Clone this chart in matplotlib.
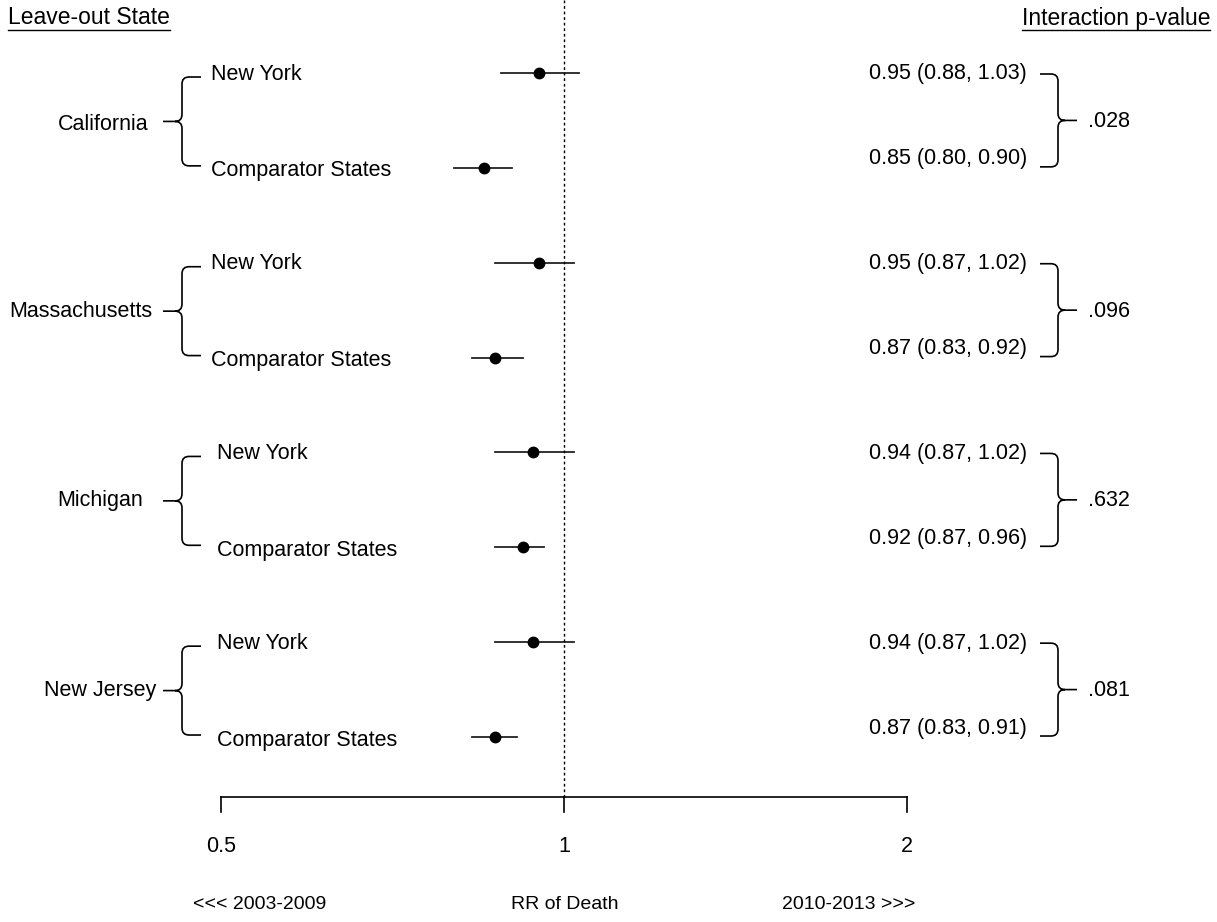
import matplotlib
matplotlib.use("Agg")
import matplotlib.pyplot as plt
from matplotlib.path import Path
from matplotlib.patches import PathPatch

plt.rcParams['font.family'] = ['Liberation Sans', 'DejaVu Sans']

# data
states = ['California', 'Massachusetts', 'Michigan', 'New Jersey']
ny_rr = [0.95, 0.95, 0.94, 0.94]
ny_lo = [0.88, 0.87, 0.87, 0.87]
ny_hi = [1.03, 1.02, 1.02, 1.02]
comp_rr = [0.85, 0.87, 0.92, 0.87]
comp_lo = [0.80, 0.83, 0.87, 0.83]
comp_hi = [0.90, 0.92, 0.96, 0.91]
p_values = ['.028', '.096', '.632', '.081']
tick_vals = [0.5, 1, 2]
tick_labels = ['0.5', '1', '2']

W, H = 1217, 922
fig = plt.figure(figsize=(W / 100, H / 100), dpi=100)

# data axes: log2 x, y in pixel rows from top
ax = fig.add_axes([0, 0, 1, 1])
ax.set_xscale('log', base=2)
ax.set_xlim(2 ** (-1 - 221 / 343), 2 ** (1 + 310 / 343))
ax.set_ylim(H, 0)
ax.axis('off')

# overlay in pixel coords for text and braces
ov = fig.add_axes([0, 0, 1, 1], facecolor='none')
ov.set_xlim(0, W)
ov.set_ylim(H, 0)
ov.axis('off')

fs = 15.5
row0, step = 73, 94.86
axis_y = 797
state_x = [103, 81, 100, 100]


def brace(x_tip, x_vert, x_end, y_top, y_bot, r=7):
    s = 1 if x_end > x_vert else -1
    ym = (y_top + y_bot) / 2
    verts = [(x_end, y_top), (x_vert + s * r, y_top), (x_vert, y_top), (x_vert, y_top + r),
             (x_vert, ym - r), (x_vert, ym), (x_vert - s * r, ym), (x_tip, ym),
             (x_vert - s * r, ym), (x_vert, ym), (x_vert, ym + r),
             (x_vert, y_bot - r), (x_vert, y_bot), (x_vert + s * r, y_bot), (x_end, y_bot)]
    codes = [Path.MOVETO, Path.LINETO, Path.CURVE3, Path.CURVE3,
             Path.LINETO, Path.CURVE3, Path.CURVE3, Path.LINETO,
             Path.MOVETO, Path.CURVE3, Path.CURVE3,
             Path.LINETO, Path.CURVE3, Path.CURVE3, Path.LINETO]
    ov.add_patch(PathPatch(Path(verts, codes), fill=False, lw=1.2, color='black'))


for i, st in enumerate(states):
    y_ny = row0 + 2 * i * step
    y_cp = y_ny + step
    ax.plot([ny_lo[i], ny_hi[i]], [y_ny, y_ny], color='#222222', lw=1.3)
    ax.plot(ny_rr[i], y_ny, 'o', color='black', ms=7.5)
    ax.plot([comp_lo[i], comp_hi[i]], [y_cp, y_cp], color='#222222', lw=1.3)
    ax.plot(comp_rr[i], y_cp, 'o', color='black', ms=7.5)

    lx = 211 if i < 2 else 217
    ov.text(lx, y_ny + 1, 'New York', fontsize=fs, ha='left', va='center')
    ov.text(lx, y_cp + 3, 'Comparator States', fontsize=fs, ha='left', va='center')
    ym = (y_ny + y_cp) / 2
    ov.text(state_x[i], ym + (4 if i == 0 else 1), st, fontsize=fs, ha='center', va='center')
    brace(163, 182, 201, y_ny + 4, y_cp - 2)

    ov.text(1027, y_ny + 1, f'{ny_rr[i]:.2f} ({ny_lo[i]:.2f}, {ny_hi[i]:.2f})',
            fontsize=fs, ha='right', va='center')
    ov.text(1027, y_cp - 9, f'{comp_rr[i]:.2f} ({comp_lo[i]:.2f}, {comp_hi[i]:.2f})',
            fontsize=fs, ha='right', va='center')
    brace(1077, 1058, 1040, y_ny + 1, y_cp - 1)
    ov.text(1088, ym + 1, p_values[i], fontsize=fs, ha='left', va='center')

# reference line at RR = 1
ax.plot([1, 1], [0, axis_y], color='black', lw=1, ls=(0, (2, 2)))

# x axis
ax.plot([tick_vals[0], tick_vals[-1]], [axis_y, axis_y], color='black', lw=1.2)
for v, lab in zip(tick_vals, tick_labels):
    ax.plot([v, v], [axis_y, axis_y + 15], color='black', lw=1.2)
    ax.text(v, 846, lab, fontsize=fs, ha='center', va='center')

ov.text(260, 904, '<<< 2003-2009', fontsize=14, ha='center', va='center')
ov.text(565, 904, 'RR of Death', fontsize=14, ha='center', va='center')
ov.text(849, 904, '2010-2013 >>>', fontsize=14, ha='center', va='center')

# headers with underline
t1 = ov.text(8, 18, 'Leave-out State', fontsize=16.5, ha='left', va='center')
t2 = ov.text(1210, 18, 'Interaction p-value', fontsize=16.5, ha='right', va='center')
fig.canvas.draw()
r = fig.canvas.get_renderer()
for t in (t1, t2):
    bb = t.get_window_extent(r)
    ov.plot([bb.x0, bb.x1], [H - bb.y0 + 1, H - bb.y0 + 1], color='black', lw=1)

fig.savefig('out.png', dpi=100)
